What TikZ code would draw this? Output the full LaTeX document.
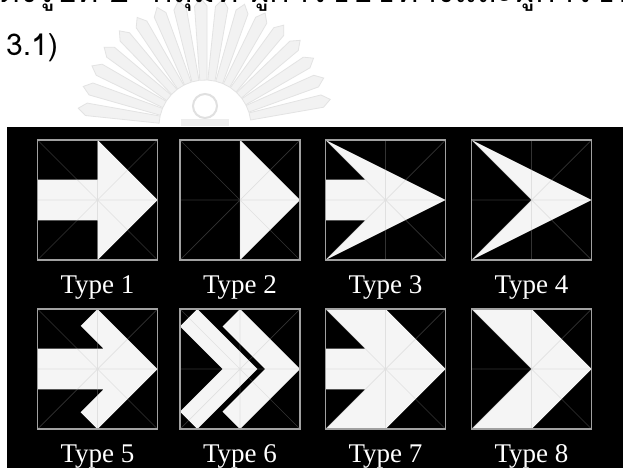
\documentclass[tikz,border=0pt]{standalone}
\usepackage{fontspec}
\setmainfont{Liberation Serif}
\newfontfamily\thaifont[Script=Thai]{Loma}
\begin{document}
\begin{tikzpicture}[x=1pt,y=-1pt,
  arrowfill/.style={fill=white!96!black},
  gridline/.style={draw=white!69!black, line width=0.7pt, opacity=0.29},
  boxframe/.style={draw=white!63!black, line width=1.5pt},
  lab/.style={text=white, font=\fontsize{27}{30}\selectfont, anchor=base, inner sep=0pt},
  wm/.style={fill=black!5, draw=black!11, line width=0.8pt}]
\useasboundingbox (0,0) rectangle (623,468);
\fill[white] (0,0) rectangle (623,468);
% watermark
\begin{scope}[shift={(205,126)}]
  \foreach \a in {12,22,...,172}{
    \filldraw[wm] (-\a-4.5:46) -- (-\a-3:120) -- (-\a:128) -- (-\a+3:120) -- (-\a+4.5:46) -- cycle;
  }
  \draw[black!12, line width=2pt] (0,-20) circle (12);
  \fill[black!7] (-24,-7) rectangle (24,0);
\end{scope}
% text
\node[anchor=base west, inner sep=0pt, font=\thaifont\fontsize{34}{38}\selectfont] (thai) at (-2,3) {ดังรูปที่ 2 \ กลุ่มที่ ผู้การขับขี่ทางและผู้การขับขี่ผ่านมา};
\node[anchor=base west, inner sep=0pt, font=\thaifont\fontsize{30}{34}\selectfont] (sec) at (6,56) {3.1)};
% black panel
\fill[black] (7.3,126.7) rectangle (623,468);
\newcommand\abox[4]{%
  \begin{scope}[shift={#1}, x=120pt, y=-120pt]
    \fill[arrowfill] #2;
    \draw[gridline] (0,0)--(1,1) (1,0)--(0,1) (0.5,0)--(0.5,1) (0,0.5)--(1,0.5);
    \draw[boxframe] (0,0) rectangle (1,1);
    \node[lab] (#3) at (0.5,1.283) {#4};
  \end{scope}}
\abox{(37.5,140)}{(0,0.33)--(0.5,0.33)--(0.5,0)--(1,0.5)--(0.5,1)--(0.5,0.67)--(0,0.67)--cycle}{t1}{Type 1}
\abox{(180,140)}{(0.5,0)--(1,0.5)--(0.5,1)--cycle}{t2}{Type 2}
\abox{(325.5,140)}{(0,0)--(1,0.5)--(0,1)--(0.33,0.67)--(0,0.67)--(0,0.33)--(0.33,0.33)--cycle}{t3}{Type 3}
\abox{(471.5,140)}{(0,0)--(1,0.5)--(0,1)--(0.5,0.5)--cycle}{t4}{Type 4}
\abox{(37.5,309)}{(0,0.33)--(0.55,0.33)--(0.36,0.14)--(0.5,0)--(1,0.5)--(0.5,1)--(0.36,0.86)--(0.55,0.67)--(0,0.67)--cycle}{t5}{Type 5}
\abox{(180,309)}{(0.5,0)--(1,0.5)--(0.5,1)--(0.355,0.855)--(0.71,0.5)--(0.355,0.145)--cycle (0.145,0)--(0.645,0.5)--(0.145,1)--(0,0.855)--(0.355,0.5)--(0,0.145)--cycle}{t6}{Type 6}
\abox{(325.5,309)}{(0,0)--(0.5,0)--(1,0.5)--(0.5,1)--(0,1)--(0.33,0.67)--(0,0.67)--(0,0.33)--(0.33,0.33)--cycle}{t7}{Type 7}
\abox{(471.5,309)}{(0,0)--(0.5,0)--(1,0.5)--(0.5,1)--(0,1)--(0.5,0.5)--cycle}{t8}{Type 8}
\end{tikzpicture}
\end{document}
